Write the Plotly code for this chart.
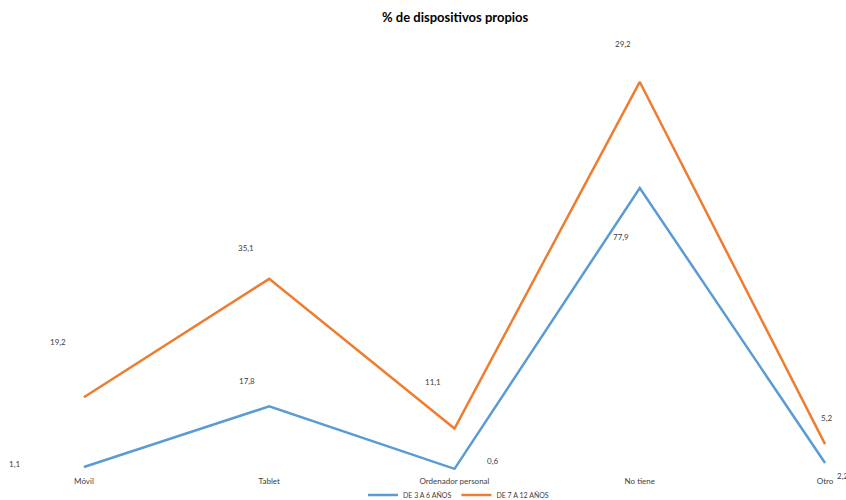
import plotly.graph_objects as go

categories = ["Móvil", "Tablet", "Ordenador personal", "No tiene", "Otro"]
serie_3_6 = [1.1, 17.8, 0.6, 77.9, 2.2]
serie_7_12 = [19.2, 35.1, 11.1, 29.2, 5.2]
series_names = ["DE 3 A 6 AÑOS", "DE 7 A 12 AÑOS"]
colors = ["#5B9BD5", "#ED7D31"]

# label pixel offsets (xshift, yshift) per point
off_3_6 = [(-69, 3), (-22, 25), (38, 8), (-19, -49), (17, -13)]
off_7_12 = [(-26, 55), (-23, 31), (-22, 47), (-17, 38), (1, 26)]

FONT = "Lato, Carlito, 'Liberation Sans', sans-serif"

x_idx = list(range(len(categories)))
fig = go.Figure()
fig.add_trace(go.Scatter(x=x_idx, y=serie_3_6, name=series_names[0], mode="lines",
                         stackgroup="one", fill="none",
                         line=dict(color=colors[0], width=2.5)))
fig.add_trace(go.Scatter(x=x_idx, y=serie_7_12, name=series_names[1], mode="lines",
                         stackgroup="one", fill="none",
                         line=dict(color=colors[1], width=2.5)))

cum = [a + b for a, b in zip(serie_3_6, serie_7_12)]
for i in x_idx:
    for val, ypos, off in ((serie_3_6[i], serie_3_6[i], off_3_6[i]),
                           (serie_7_12[i], cum[i], off_7_12[i])):
        fig.add_annotation(x=i, y=ypos, text=f"{val:.1f}".replace(".", ","),
                           showarrow=False, xshift=off[0], yshift=off[1],
                           font=dict(size=8, color="#404040", family=FONT))

fig.update_layout(
    width=846, height=500,
    margin=dict(l=0, r=0, t=0, b=0, autoexpand=False),
    paper_bgcolor="white", plot_bgcolor="white",
    title=dict(text="<b>% de dispositivos propios</b>", x=0.538, xanchor="center",
               y=0.965, yanchor="middle",
               font=dict(size=13, color="#000000", family=FONT)),
    xaxis=dict(range=[-0.453, 4.113], tickmode="array", tickvals=x_idx,
               ticktext=categories, showgrid=False, zeroline=False, showline=False,
               ticks="outside", ticklen=2, tickcolor="rgba(0,0,0,0)",
               tickfont=dict(size=8, color="#404040", family=FONT)),
    yaxis=dict(range=[0, 121.4], domain=[0.058, 0.94], visible=False,
               showgrid=False, zeroline=False),
    showlegend=True,
    legend=dict(orientation="h", x=0.542, xanchor="center", y=0.01, yanchor="middle",
                font=dict(size=7, color="#404040", family=FONT),
                itemwidth=30, tracegroupgap=0, bgcolor="rgba(0,0,0,0)"),
    font=dict(family=FONT),
)

fig.write_html("out.html")
